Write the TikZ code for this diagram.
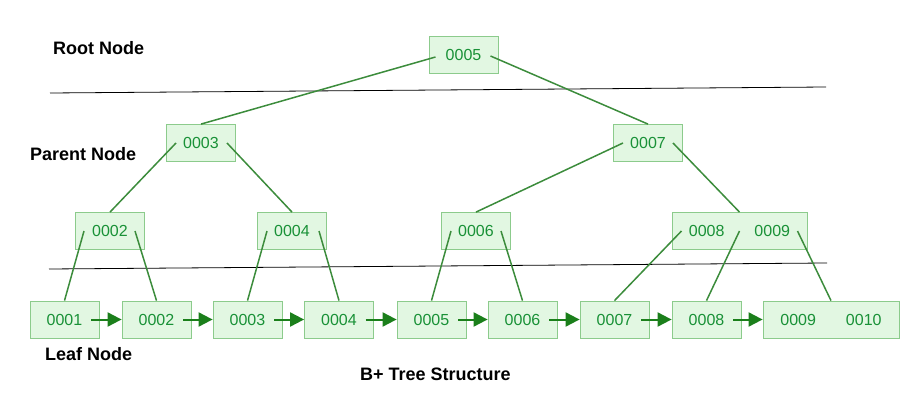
\documentclass[tikz,border=0pt]{standalone}
\usepackage{fontspec}
\setmainfont{Liberation Sans}
\usetikzlibrary{arrows.meta}
\definecolor{keyfill}{RGB}{226,247,226}
\definecolor{keyline}{RGB}{140,203,140}
\definecolor{keytext}{RGB}{25,145,55}
\definecolor{linkgreen}{RGB}{60,140,60}
\definecolor{arrowgreen}{RGB}{27,127,27}

\begin{document}
\begin{tikzpicture}[x=1pt,y=-1pt,
  keybox/.style={draw=keyline,line width=0.8pt,fill=keyfill,text=keytext,minimum width=69pt,minimum height=37pt,inner sep=0pt,font=\fontsize{16}{18}\selectfont},
  treelink/.style={draw=linkgreen,line width=1.5pt},
  leafarrow/.style={-{Triangle[length=14pt,width=14pt]},draw=arrowgreen,fill=arrowgreen,line width=2pt},
  sepline/.style={line width=0.8pt},
  lbl/.style={anchor=west,inner sep=0pt,font=\fontsize{18}{20}\selectfont\bfseries}]
  \useasboundingbox (0,0) rectangle (924,412);
  % levels
  \draw[sepline] (50,93) -- (826,87);
  \draw[sepline] (49,269) -- (827,263);
  \node[lbl] (rootlbl) at (53,48) {Root Node};
  \node[lbl] (parentlbl) at (30,154) {Parent Node};
  \node[lbl] (leaflbl) at (45,354) {Leaf Node};
  \node[lbl] (title) at (360,374) {B+ Tree Structure};
  % inner nodes
  \node[keybox] (r) at (463.5,55) {0005};
  \node[keybox] (p3) at (201,143) {0003};
  \node[keybox] (p7) at (648,143) {0007};
  \node[keybox] (q2) at (110,231) {0002};
  \node[keybox] (q4) at (292,231) {0004};
  \node[keybox] (q6) at (476,231) {0006};
  \node[keybox,minimum width=135pt] (q89) at (739.5,231) {0008\hspace{30pt}0009};
  % leaves
  \foreach \n/\x in {1/64.5,2/156.5,3/247.5,4/339,5/431.5,6/522.5,7/614.5,8/706.5}
    \node[keybox] (l\n) at (\x,319.5) {000\n};
  \node[keybox,minimum width=136pt] (l9) at (831,319.5) {0009\hspace{30pt}0010};
  \foreach \a/\b in {1/2,2/3,3/4,4/5,5/6,6/7,7/8,8/9}
    \draw[leafarrow] ([xshift=-8pt]l\a.east) -- (l\b.west);
  % pointers
  \draw[treelink] ([shift={(-28,2)}]r.center) -- (p3.north);
  \draw[treelink] ([shift={(27,1)}]r.center) -- (p7.north);
  \draw[treelink] ([xshift=-25pt]p3.center) -- (q2.north);
  \draw[treelink] ([xshift=26pt]p3.center) -- (q4.north);
  \draw[treelink] ([xshift=-25pt]p7.center) -- (q6.north);
  \draw[treelink] ([xshift=25pt]p7.center) -- (q89.north);
  \draw[treelink] ([xshift=-26pt]q2.center) -- (l1.north);
  \draw[treelink] ([xshift=25pt]q2.center) -- (l2.north);
  \draw[treelink] ([xshift=-25pt]q4.center) -- (l3.north);
  \draw[treelink] ([xshift=27pt]q4.center) -- (l4.north);
  \draw[treelink] ([xshift=-25pt]q6.center) -- (l5.north);
  \draw[treelink] ([xshift=25pt]q6.center) -- (l6.north);
  \draw[treelink] ([xshift=-58pt]q89.center) -- (l7.north);
  \draw[treelink] (q89.center) -- (l8.north);
  \draw[treelink] ([xshift=58pt]q89.center) -- (l9.north);
\end{tikzpicture}
\end{document}
